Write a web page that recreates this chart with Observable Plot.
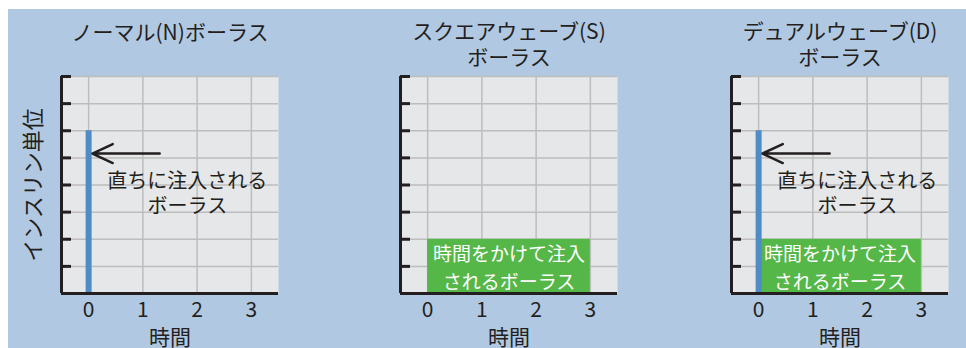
<!DOCTYPE html>
<html>
<head>
<meta charset="utf-8">
<script src="https://cdn.jsdelivr.net/npm/d3@7"></script>
<script src="https://cdn.jsdelivr.net/npm/@observablehq/plot@0.6"></script>
<style>
  html, body { margin: 0; padding: 0; background: #ffffff; }
  #stage { position: relative; width: 966px; height: 348px; overflow: hidden; }
  #bg { position: absolute; left: 8px; top: 9px; width: 958px; height: 339px; background: #b1c8e2; }
  .panel { position: absolute; top: 0; }
  .panel svg { overflow: visible; }
</style>
</head>
<body>
<div id="stage"><div id="bg"></div></div>
<script>
// ---- data ----
const panelTitles = ["ノーマル(N)ボーラス", "スクエアウェーブ(S)\nボーラス", "デュアルウェーブ(D)\nボーラス"];
const yLabel = "インスリン単位";
const xLabel = "時間";
const xTicks = [0, 1, 2, 3];
const yTicks = [1, 2, 3, 4, 5, 6, 7, 8];
const xDomain = [-0.5, 3.5];
const yDomain = [0, 8];
// normal bolus: instant spike at time 0 up to 6 units
const normalBolus = [{time: 0, units: 6}];
// square wave: 2 units spread from time 0 to 3
const squareBolus = [{start: 0, end: 3, units: 2}];
const normalNote = [{x: 1.82, y: 3.74, text: "直ちに注入される\nボーラス"}];
const normalArrow = [{x1: 1.31, x2: 0.07, y: 5.16}];
const squareNote = [{x: 1.5, y: 1.0, text: "時間をかけて注入\nされるボーラス"}];
const panelHas = [
  {normal: true, square: false},
  {normal: false, square: true},
  {normal: true, square: true}
];
const panelLeft = [0, 330, 646];
const panelMarginLeft = [61, 70, 85];

const FONT = "'Noto Sans CJK JP', 'Noto Sans', sans-serif";
const INK = "#231f20";

panelTitles.forEach((title, i) => {
  const has = panelHas[i];
  const twoLine = title.includes("\n");
  const marks = [
    Plot.frame({fill: "#e6e7e8", stroke: null}),
    Plot.gridX({ticks: xTicks, stroke: "#bdbdbd", strokeOpacity: 1, strokeWidth: 1.5}),
    Plot.gridY({ticks: yTicks, stroke: "#bdbdbd", strokeOpacity: 1, strokeWidth: 1.5}),
  ];
  if (has.square) {
    marks.push(Plot.rect(squareBolus, {x1: "start", x2: "end", y1: 0, y2: "units", fill: "#56b749"}));
  }
  if (has.normal) {
    marks.push(Plot.ruleX(normalBolus, {x: "time", y1: 0, y2: "units", stroke: "#4f8bc5", strokeWidth: 6}));
    marks.push(Plot.arrow(normalArrow, {x1: "x1", x2: "x2", y1: "y", y2: "y", stroke: INK, strokeWidth: 2.5, headLength: 16, headAngle: 50}));
    marks.push(Plot.text(normalNote, {x: "x", y: "y", text: "text", fontSize: 20, lineHeight: 1.25, fill: INK, lineAnchor: "middle"}));
  }
  if (has.square) {
    marks.push(Plot.text(squareNote, {x: "x", y: "y", text: "text", fontSize: 19, lineHeight: 1.45, fill: "#ffffff", lineAnchor: "middle"}));
  }
  marks.push(
    Plot.ruleX([xDomain[0]], {stroke: INK, strokeWidth: 3}),
    Plot.ruleY([yDomain[0]], {stroke: INK, strokeWidth: 3}),
    Plot.axisY({ticks: yTicks, tickSize: -10, tickFormat: () => "", stroke: INK, strokeWidth: 3, label: null}),
    Plot.axisX({ticks: xTicks, tickSize: 0, tickPadding: 9, tickFormat: d3.format("d"), fontSize: 21, fill: INK,
                label: xLabel, labelAnchor: "center", labelOffset: 51, labelArrow: "none"}),
    Plot.text([title], {frameAnchor: "top", text: d => d, fontSize: 21, fill: INK,
                        lineAnchor: "middle", lineHeight: 1.2, dy: twoLine ? -32.5 : -45})
  );
  if (i === 0) {
    marks.push(Plot.text([yLabel], {frameAnchor: "left", text: d => d, rotate: -90, dx: -28, fontSize: 22,
                                    textAnchor: "middle", lineAnchor: "middle", fill: INK}));
  }
  const chart = Plot.plot({
    width: 320,
    height: 348,
    marginLeft: panelMarginLeft[i],
    marginRight: 320 - panelMarginLeft[i] - 217,
    marginTop: 76,
    marginBottom: 55,
    x: {domain: xDomain},
    y: {domain: yDomain},
    style: {background: "transparent", fontFamily: FONT, color: INK, overflow: "visible"},
    marks
  });
  const wrap = document.createElement("div");
  wrap.className = "panel";
  wrap.style.left = panelLeft[i] + "px";
  wrap.appendChild(chart);
  document.getElementById("stage").appendChild(wrap);
});
</script>
</body>
</html>
